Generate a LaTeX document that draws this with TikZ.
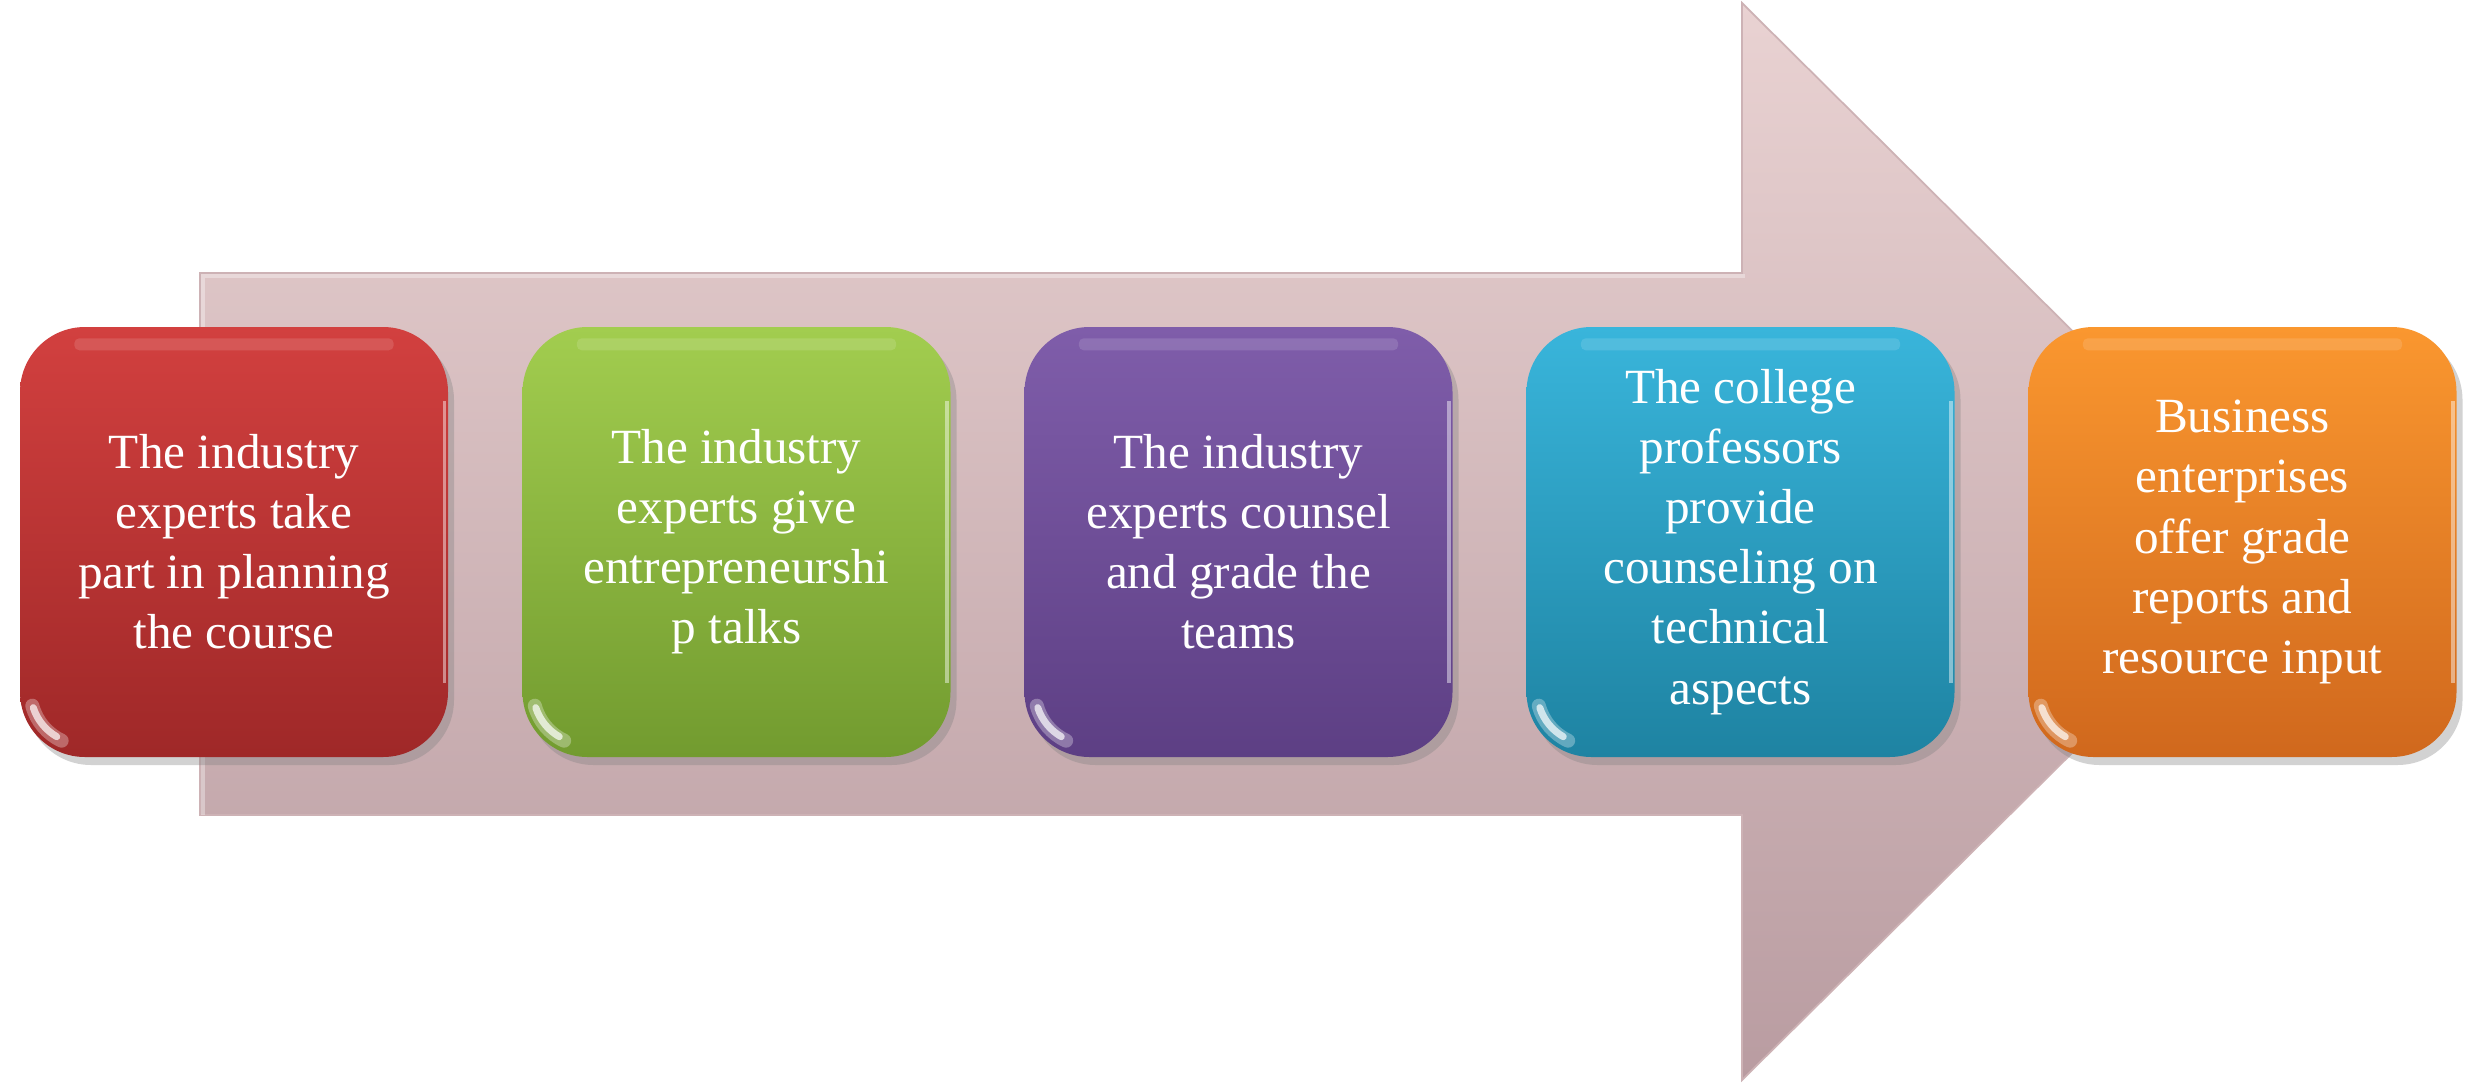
\documentclass[tikz,border=0pt]{standalone}
\usepackage{fontspec}
\setmainfont{Liberation Serif}
\usetikzlibrary{shadows,calc}
\definecolor{arrowT}{HTML}{E9D2D2}
\definecolor{arrowB}{HTML}{B99CA1}
\definecolor{arrowE}{HTML}{CDB2B5}
\definecolor{redT}{HTML}{D2403F}
\definecolor{redB}{HTML}{9F2828}
\definecolor{greenT}{HTML}{A2CD4F}
\definecolor{greenB}{HTML}{729B2F}
\definecolor{purpleT}{HTML}{7F5DAA}
\definecolor{purpleB}{HTML}{5D3F84}
\definecolor{blueT}{HTML}{39B5DB}
\definecolor{blueB}{HTML}{1E83A2}
\definecolor{orangeT}{HTML}{FA972F}
\definecolor{orangeB}{HTML}{D0681D}
\newcommand\boxgloss[1]{%
  \fill[white,opacity=0.13,rounded corners=0.5mm] ([shift={(55,-12)}]#1.north west) rectangle ([shift={(-55,-24)}]#1.north east);
  \draw[white,opacity=0.3,line width=4pt,line cap=round] ([shift={(13,52)}]#1.south west) arc[start angle=195,end angle=245,radius=54];
  \draw[white,opacity=0.7,line width=2pt,line cap=round] ([shift={(14,50)}]#1.south west) arc[start angle=198,end angle=240,radius=52];
  \draw[white,opacity=0.45,line width=1pt] ([shift={(-4,-75)}]#1.north east) -- ([shift={(-4,75)}]#1.south east);
}
\begin{document}
\begin{tikzpicture}[x=0.1mm,y=0.1mm,
  stepbox/.style={minimum width=4.28cm,minimum height=4.30cm,rounded corners=0.65cm,
    text=white,align=center,inner sep=0pt,font=\fontsize{14}{17.1}\selectfont,
    drop shadow={shadow xshift=0.6mm,shadow yshift=-0.8mm,opacity=0.35}}]
\useasboundingbox (0,0) rectangle (2480,1083);
\fill[white] (0,0) rectangle (2480,1083);
% big arrow
\shade[top color=arrowT,bottom color=arrowB,draw=arrowE,line width=0.5pt]
  (200,268) -- (200,810) -- (1742,810) -- (1742,1080) -- (2285,541) -- (1742,3) -- (1742,268) -- cycle;
\draw[white,opacity=0.35,line width=1.2pt] (203,268) -- (203,807) -- (1745,807);
% boxes
\node[stepbox,top color=redT,bottom color=redB] (b1) at (234,541)
  {The industry\\experts take\\part in planning\\the course};
\node[stepbox,top color=greenT,bottom color=greenB] (b2) at (736.5,541)
  {The industry\\experts give\\entrepreneurshi\\p talks};
\node[stepbox,top color=purpleT,bottom color=purpleB] (b3) at (1238.5,541)
  {The industry\\experts counsel\\and grade the\\teams};
\node[stepbox,top color=blueT,bottom color=blueB] (b4) at (1740.5,541)
  {The college\\professors\\provide\\counseling on\\technical\\aspects};
\node[stepbox,top color=orangeT,bottom color=orangeB] (b5) at (2242.5,541)
  {Business\\enterprises\\offer grade\\reports and\\resource input};
\boxgloss{b1}
\boxgloss{b2}
\boxgloss{b3}
\boxgloss{b4}
\boxgloss{b5}
\end{tikzpicture}
\end{document}
